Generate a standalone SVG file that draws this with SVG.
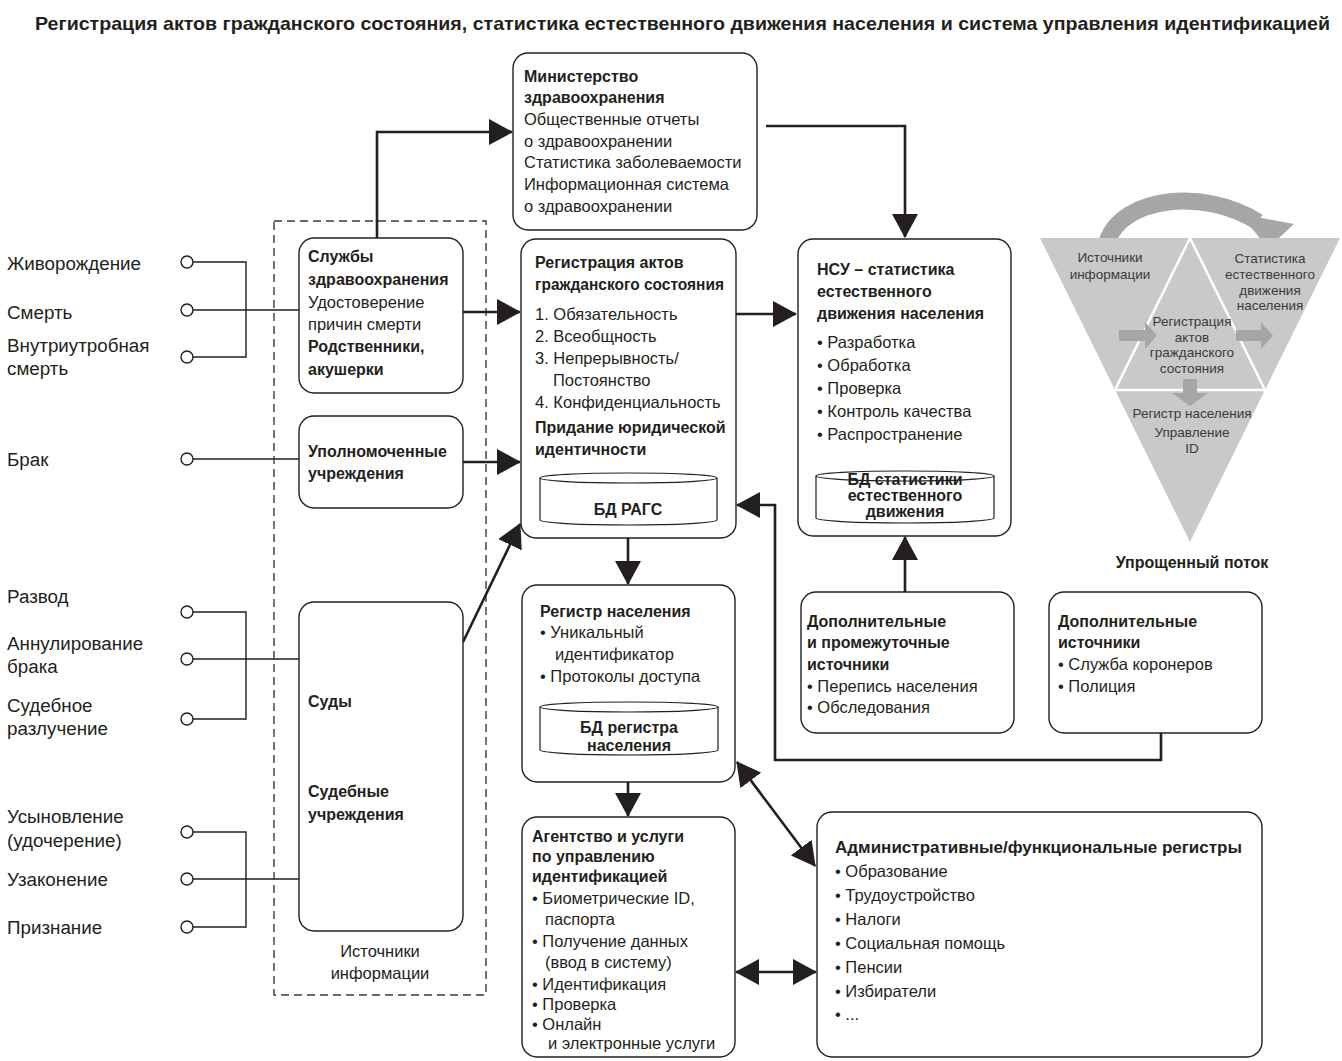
<svg xmlns="http://www.w3.org/2000/svg" width="1342" height="1061" viewBox="0 0 1342 1061">
<style>
text{font-family:"Liberation Sans",Arial,sans-serif;fill:#231f20}
.r{font-size:16.5px}
.b{font-size:16px;font-weight:bold}
.lbl{font-size:18.8px}
.box{fill:#fff;stroke:#231f20;stroke-width:1.4}
.cyl{fill:#fff;stroke:#231f20;stroke-width:1.2}
.thin{fill:none;stroke:#231f20;stroke-width:1.4}
.con{fill:none;stroke:#231f20;stroke-width:2.6}
.tri{font-size:13.5px;fill:#3a3a3a;text-anchor:middle}
.c{text-anchor:middle}
</style>
<defs>
<marker id="ah" viewBox="0 0 24 26" refX="23" refY="13" markerWidth="24" markerHeight="26" markerUnits="userSpaceOnUse" orient="auto-start-reverse">
<path d="M0,0 L24,13 L0,26 z" fill="#231f20"/>
</marker>
</defs>
<rect width="1342" height="1061" fill="#fff"/>

<text x="35" y="30" font-size="18.5" font-weight="bold" textLength="1295" lengthAdjust="spacingAndGlyphs">Регистрация актов гражданского состояния, статистика естественного движения населения и система управления идентификацией</text>

<!-- left labels -->
<g id="labels">
<text x="7" y="270" class="lbl">Живорождение</text>
<text x="7" y="319" class="lbl">Смерть</text>
<text x="7" y="352" class="lbl">Внутриутробная</text>
<text x="7" y="375" class="lbl">смерть</text>
<text x="7" y="466" class="lbl">Брак</text>
<text x="7" y="603" class="lbl">Развод</text>
<text x="7" y="650" class="lbl">Аннулирование</text>
<text x="7" y="673" class="lbl">брака</text>
<text x="7" y="712" class="lbl">Судебное</text>
<text x="7" y="735" class="lbl">разлучение</text>
<text x="7" y="823" class="lbl">Усыновление</text>
<text x="7" y="847" class="lbl">(удочерение)</text>
<text x="7" y="886" class="lbl">Узаконение</text>
<text x="7" y="934" class="lbl">Признание</text>
</g>

<!-- thin input lines and circles -->
<g id="inputs">
<path class="thin" d="M193,262 H246 V357 H193 M193,310 H299"/>
<path class="thin" d="M193,459 H299"/>
<path class="thin" d="M193,612 H246 V719 H193 M193,659 H299"/>
<path class="thin" d="M193,832 H246 V927 H193 M193,879 H299"/>
<g fill="#fff" stroke="#231f20" stroke-width="1.4">
<circle cx="187" cy="262" r="6"/><circle cx="187" cy="310" r="6"/><circle cx="187" cy="357" r="6"/>
<circle cx="187" cy="459" r="6"/>
<circle cx="187" cy="612" r="6"/><circle cx="187" cy="659" r="6"/><circle cx="187" cy="719" r="6"/>
<circle cx="187" cy="832" r="6"/><circle cx="187" cy="879" r="6"/><circle cx="187" cy="927" r="6"/>
</g>
</g>

<!-- sources dashed frame -->
<g id="sources">
<rect x="274" y="221" width="212" height="774" fill="none" stroke="#3a3a3a" stroke-width="1.4" stroke-dasharray="8 5"/>
<text x="380" y="957" class="r c">Источники</text>
<text x="380" y="979" class="r c">информации</text>
</g>

<!-- connectors -->
<g id="connectors">
<path class="con" d="M377,238 V132 H512" marker-end="url(#ah)"/>
<path class="con" d="M766,126 H905 V237" marker-end="url(#ah)"/>
<path class="con" d="M463,312 H520" marker-end="url(#ah)"/>
<path class="con" d="M463,462 H520" marker-end="url(#ah)"/>
<path class="con" d="M463,642 L520,524" marker-end="url(#ah)"/>
<path class="con" d="M736,314 H796" marker-end="url(#ah)"/>
<path class="con" d="M628,538 V584" marker-end="url(#ah)"/>
<path class="con" d="M628,782 V816" marker-end="url(#ah)"/>
<path class="con" d="M737,762 L815,866" marker-start="url(#ah)" marker-end="url(#ah)"/>
<path class="con" d="M736,972 H816" marker-start="url(#ah)" marker-end="url(#ah)"/>
<path class="con" d="M905,592 V537" marker-end="url(#ah)"/>
<path class="con" d="M1161,733 V760 H775 V505 H737" marker-end="url(#ah)"/>
</g>

<g id="ministry">
<rect class="box" x="513" y="53" width="244" height="177" rx="15"/>
<text x="524" y="82" class="b">Министерство</text>
<text x="524" y="103" class="b">здравоохранения</text>
<text x="524" y="125" class="r">Общественные отчеты</text>
<text x="524" y="147" class="r">о здравоохранении</text>
<text x="524" y="168" class="r">Статистика заболеваемости</text>
<text x="524" y="190" class="r">Информационная система</text>
<text x="524" y="212" class="r">о здравоохранении</text>
</g>

<g id="health-services">
<rect class="box" x="299" y="238" width="164" height="155" rx="15"/>
<text x="308" y="262" class="b">Службы</text>
<text x="308" y="285" class="b">здравоохранения</text>
<text x="308" y="308" class="r">Удостоверение</text>
<text x="308" y="330" class="r">причин смерти</text>
<text x="308" y="352" class="b">Родственники,</text>
<text x="308" y="375" class="b">акушерки</text>
</g>

<g id="authorized">
<rect class="box" x="299" y="416" width="164" height="92" rx="15"/>
<text x="308" y="457" class="b">Уполномоченные</text>
<text x="308" y="479" class="b">учреждения</text>
</g>

<g id="courts">
<rect class="box" x="299" y="602" width="164" height="329" rx="15"/>
<text x="308" y="707" class="b">Суды</text>
<text x="308" y="797" class="b">Судебные</text>
<text x="308" y="820" class="b">учреждения</text>
</g>

<g id="crvs">
<rect class="box" x="521" y="239" width="215" height="299" rx="15"/>
<text x="535" y="268" class="b">Регистрация актов</text>
<text x="535" y="290" class="b" textLength="189" lengthAdjust="spacingAndGlyphs">гражданского состояния</text>
<text x="535" y="320" class="r">1. Обязательность</text>
<text x="535" y="342" class="r">2. Всеобщность</text>
<text x="535" y="364" class="r">3. Непрерывность/</text>
<text x="553" y="386" class="r">Постоянство</text>
<text x="535" y="408" class="r">4. Конфиденциальность</text>
<text x="535" y="433" class="b">Придание юридической</text>
<text x="535" y="455" class="b">идентичности</text>
<path class="cyl" d="M540,478 V520 A88.5,5 0 0 0 717,520 V478"/>
<ellipse class="cyl" cx="628.5" cy="478" rx="88.5" ry="5"/>
<text x="628" y="515" class="b c">БД РАГС</text>
</g>

<g id="nso">
<rect class="box" x="798" y="239" width="213" height="297" rx="15"/>
<text x="817" y="275" class="b">НСУ – статистика</text>
<text x="817" y="297" class="b">естественного</text>
<text x="817" y="319" class="b">движения населения</text>
<text x="817" y="348" class="r">• Разработка</text>
<text x="817" y="371" class="r">• Обработка</text>
<text x="817" y="394" class="r">• Проверка</text>
<text x="817" y="417" class="r">• Контроль качества</text>
<text x="817" y="440" class="r">• Распространение</text>
<path class="cyl" d="M816,476 V518 A89,5 0 0 0 994,518 V476"/>
<ellipse class="cyl" cx="905" cy="476" rx="89" ry="5"/>
<text x="905" y="485" class="b c">БД статистики</text>
<text x="905" y="501" class="b c">естественного</text>
<text x="905" y="517" class="b c">движения</text>
</g>

<g id="population-register">
<rect class="box" x="522" y="585" width="213" height="197" rx="15"/>
<text x="540" y="617" class="b">Регистр населения</text>
<text x="540" y="638" class="r">• Уникальный</text>
<text x="555" y="660" class="r">идентификатор</text>
<text x="540" y="682" class="r">• Протоколы доступа</text>
<path class="cyl" d="M540,707 V750 A89,5 0 0 0 718,750 V707"/>
<ellipse class="cyl" cx="629" cy="707" rx="89" ry="5"/>
<text x="629" y="733" class="b c">БД регистра</text>
<text x="629" y="751" class="b c">населения</text>
</g>

<g id="id-agency">
<rect class="box" x="522" y="817" width="213" height="240" rx="15"/>
<text x="532" y="842" class="b">Агентство и услуги</text>
<text x="532" y="862" class="b">по управлению</text>
<text x="532" y="882" class="b">идентификацией</text>
<text x="532" y="904" class="r">• Биометрические ID,</text>
<text x="545" y="925" class="r">паспорта</text>
<text x="532" y="947" class="r">• Получение данных</text>
<text x="545" y="968" class="r">(ввод в систему)</text>
<text x="532" y="990" class="r">• Идентификация</text>
<text x="532" y="1010" class="r">• Проверка</text>
<text x="532" y="1030" class="r">• Онлайн</text>
<text x="548" y="1049" class="r">и электронные услуги</text>
</g>

<g id="admin-registers">
<rect class="box" x="817" y="812" width="445" height="245" rx="15"/>
<text x="835" y="853" class="b" textLength="407" lengthAdjust="spacingAndGlyphs">Административные/функциональные регистры</text>
<text x="835" y="877" class="r">• Образование</text>
<text x="835" y="901" class="r">• Трудоустройство</text>
<text x="835" y="925" class="r">• Налоги</text>
<text x="835" y="949" class="r">• Социальная помощь</text>
<text x="835" y="973" class="r">• Пенсии</text>
<text x="835" y="997" class="r">• Избиратели</text>
<text x="835" y="1020" class="r">• ...</text>
</g>

<g id="supplementary-intermediate">
<rect class="box" x="801" y="592" width="213" height="141" rx="15"/>
<text x="807" y="627" class="b">Дополнительные</text>
<text x="807" y="648" class="b">и промежуточные</text>
<text x="807" y="670" class="b">источники</text>
<text x="807" y="692" class="r">• Перепись населения</text>
<text x="807" y="713" class="r">• Обследования</text>
</g>

<g id="supplementary">
<rect class="box" x="1049" y="592" width="213" height="141" rx="15"/>
<text x="1058" y="627" class="b">Дополнительные</text>
<text x="1058" y="648" class="b">источники</text>
<text x="1058" y="670" class="r">• Служба коронеров</text>
<text x="1058" y="692" class="r">• Полиция</text>
</g>

<g id="simplified-flow">
<path d="M1107,242 C1122,196 1205,188 1258,222" fill="none" stroke="#a6a6a6" stroke-width="17"/>
<polygon points="1240,214 1294,224 1268,248" fill="#a6a6a6"/>
<polygon points="1040,238 1340,238 1190,542" fill="#c9c9c9"/>
<path d="M1190,238 L1115,390 H1265 Z" fill="none" stroke="#fff" stroke-width="2.5"/>
<polygon points="1119,330 1145,330 1145,322 1157,335.5 1145,349 1145,341 1119,341" fill="#a6a6a6"/>
<polygon points="1236,330 1261,330 1261,322 1273,335.5 1261,349 1261,341 1236,341" fill="#a6a6a6"/>
<polygon points="1183,379 1197,379 1197,393 1208,393 1190,406 1172,393 1183,393" fill="#a6a6a6"/>
<text x="1110" y="262" class="tri">Источники</text>
<text x="1110" y="279" class="tri">информации</text>
<text x="1270" y="263" class="tri">Статистика</text>
<text x="1270" y="279" class="tri">естественного</text>
<text x="1270" y="295" class="tri">движения</text>
<text x="1270" y="310" class="tri">населения</text>
<text x="1192" y="326" class="tri">Регистрация</text>
<text x="1192" y="342" class="tri">актов</text>
<text x="1192" y="357" class="tri">гражданского</text>
<text x="1192" y="373" class="tri">состояния</text>
<text x="1192" y="418" class="tri">Регистр населения</text>
<text x="1192" y="437" class="tri">Управление</text>
<text x="1192" y="453" class="tri">ID</text>
<text x="1192" y="568" class="c" font-size="16" font-weight="bold">Упрощенный поток</text>
</g>
</svg>
